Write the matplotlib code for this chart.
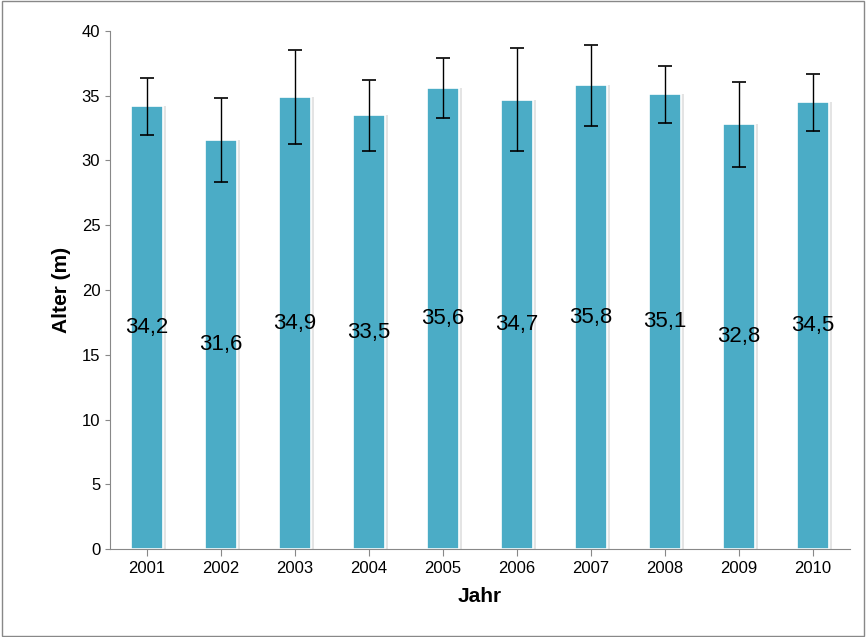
import matplotlib
matplotlib.use("Agg")
import matplotlib.pyplot as plt
from matplotlib.patches import Rectangle

years = ["2001", "2002", "2003", "2004", "2005", "2006", "2007", "2008", "2009", "2010"]
values = [34.2, 31.6, 34.9, 33.5, 35.6, 34.7, 35.8, 35.1, 32.8, 34.5]
errors = [2.2, 3.25, 3.6, 2.75, 2.3, 3.95, 3.1, 2.2, 3.3, 2.2]
labels = ["34,2", "31,6", "34,9", "33,5", "35,6", "34,7", "35,8", "35,1", "32,8", "34,5"]

plt.rcParams['font.family'] = ['Liberation Sans', 'DejaVu Sans']
fig = plt.figure(figsize=(8.66, 6.37), dpi=100)
ax = fig.add_axes([110 / 866, 88 / 637, 740 / 866, 518 / 637])
fig.patches.append(Rectangle((0.002, 0.002), 0.996, 0.996, transform=fig.transFigure,
                             fill=False, edgecolor='#888888', linewidth=1))

x = range(len(years))
# faint shadow behind bars
ax.bar([i + 0.03 for i in x], values, width=0.46, color='#e4e4e4', zorder=1)
ax.bar(x, values, width=0.44, color='#4bacc6', edgecolor='white', linewidth=1.2, zorder=2)
ax.errorbar(x, values, yerr=errors, fmt='none', ecolor='black', elinewidth=1,
            capsize=5, capthick=1.2, zorder=3)
# labels sit at the middle of each bar
for i, lab in enumerate(labels):
    ax.text(i, values[i] / 2, lab, ha='center', va='center', fontsize=16, zorder=4)

ax.set_xlim(-0.5, len(years) - 0.5)
ax.set_ylim(0, 40)
ax.set_yticks(range(0, 41, 5))
ax.set_xticks(list(x))
ax.set_xticklabels(years)
ax.tick_params(labelsize=12, color='#888888', direction='out')
ax.tick_params(axis='x', length=5)
for s in ['top', 'right']:
    ax.spines[s].set_visible(False)
for s in ['left', 'bottom']:
    ax.spines[s].set_color('#888888')
ax.set_xlabel("Jahr", fontsize=15, fontweight='bold', labelpad=8)
ax.set_ylabel("Alter (m)", fontsize=15, fontweight='bold', labelpad=8)

fig.savefig("out.png", dpi=100)
